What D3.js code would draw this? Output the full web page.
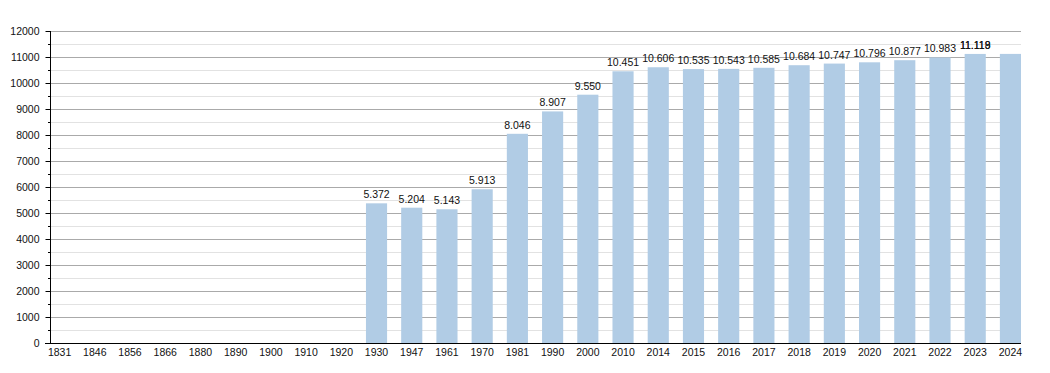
<!DOCTYPE html>
<html lang="it">
<head>
  <meta charset="UTF-8">
  <title>Popolazione</title>
  <script src="https://d3js.org/d3.v7.min.js"></script>
  <style>
    body { margin: 0; background: #fff; font-family: "Liberation Sans", Arial, sans-serif; }
    .grid-major { stroke: #aaa; stroke-width: 1; }
    .grid-minor { stroke: #e2e2e2; stroke-width: 1; }
    .bar { fill: #b1cce5; }
    .val { font-size: 10.5px; fill: #111; text-anchor: middle; }
    .tick-label { font-size: 10.5px; fill: #111; }
  </style>
</head>
<body>
  <svg id="chart" width="1050" height="373"></svg>
  <script>
    // dati: anni e abitanti
    const years = ["1831","1846","1856","1866","1880","1890","1900","1910","1920","1930",
                   "1947","1961","1970","1981","1990","2000","2010","2014","2015","2016",
                   "2017","2018","2019","2020","2021","2022","2023","2024"];
    const population = [0,0,0,0,0,0,0,0,0,5372,
                        5204,5143,5913,8046,8907,9550,10451,10606,10535,10543,
                        10585,10684,10747,10796,10877,10983,11118,11119];
    const yTicks = d3.range(0, 12001, 1000);
    const yMinor = d3.range(500, 12000, 1000);

    const plot = { left: 50, right: 1021, top: 31, bottom: 343 };
    const svg = d3.select("#chart");

    const x = d3.scaleBand()
      .domain(years)
      .range([49, plot.right])
      .paddingInner(0.4)
      .paddingOuter(0)
      .align(0);

    const y = d3.scaleLinear().domain([0, 12000]).range([plot.bottom, plot.top]);
    const py = d => Math.round(y(d)) + 0.5;

    // griglia
    svg.append("g").selectAll("line").data(yMinor).join("line")
      .attr("class", "grid-minor")
      .attr("x1", plot.left).attr("x2", plot.right)
      .attr("y1", py).attr("y2", py);
    svg.append("g").selectAll("line").data(yTicks.slice(1)).join("line")
      .attr("class", "grid-major")
      .attr("x1", plot.left).attr("x2", plot.right)
      .attr("y1", py).attr("y2", py);

    // barre
    svg.append("g").selectAll("rect").data(years).join("rect")
      .attr("class", "bar")
      .attr("x", d => x(d))
      .attr("width", x.bandwidth())
      .attr("y", (d, i) => y(population[i]))
      .attr("height", (d, i) => plot.bottom - y(population[i]));

    // etichette valori (l'ultima finisce sopra la penultima, come nell'originale)
    const fmt = v => d3.format(",")(v).replace(/,/g, ".");
    svg.append("g").selectAll("text").data(years.filter((d, i) => population[i] > 0)).join("text")
      .attr("class", "val")
      .attr("x", d => {
        const i = years.indexOf(d);
        const k = i === years.length - 1 ? i - 1 : i;
        return x(years[k]) + x.bandwidth() / 2;
      })
      .attr("y", d => y(population[years.indexOf(d)]) - 5)
      .text(d => fmt(population[years.indexOf(d)]));

    // asse y
    const yAxis = svg.append("g").attr("transform", `translate(${plot.left + 0.5},0)`)
      .call(d3.axisLeft(y).tickValues(yTicks).tickSize(5).tickPadding(6).tickFormat(d3.format("d")));
    yAxis.selectAll("text").attr("class", "tick-label").attr("font-family", null).attr("font-size", null);
    yAxis.select(".domain").attr("stroke", "#000").attr("d", `M0,${plot.top}V${plot.bottom}`);
    yAxis.selectAll(".tick line").attr("stroke", "#000");
    svg.append("g").selectAll("line").data(yMinor).join("line")
      .attr("x1", plot.left - 2).attr("x2", plot.left)
      .attr("y1", py).attr("y2", py)
      .attr("stroke", "#000");

    // asse x
    const xAxis = svg.append("g").attr("transform", `translate(0,${plot.bottom + 0.5})`)
      .call(d3.axisBottom(x).tickSize(0).tickPadding(5));
    xAxis.selectAll("text").attr("class", "tick-label").attr("font-family", null).attr("font-size", null);
    xAxis.select(".domain").attr("stroke", "#000").attr("d", `M${plot.left - 5},0H${plot.right}`);
  </script>
</body>
</html>
